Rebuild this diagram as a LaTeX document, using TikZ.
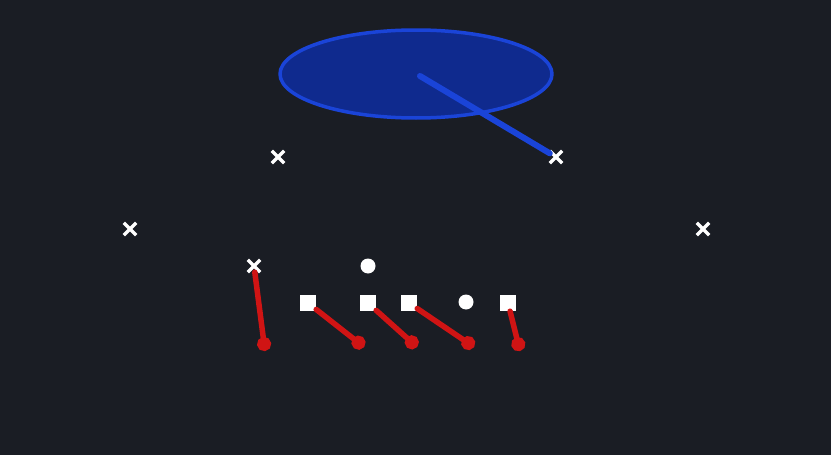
\documentclass[tikz,border=0pt]{standalone}
\usetikzlibrary{shapes.misc,arrows.meta}

\definecolor{field}{HTML}{1A1D24}
\definecolor{zonefill}{HTML}{0F2A8E}
\definecolor{zoneline}{HTML}{1A44D8}
\definecolor{routered}{HTML}{D01414}

\tikzset{
  defender/.style={cross out, draw=white, line width=3.4pt, minimum size=9pt, inner sep=0pt},
  lineman/.style={rectangle, fill=white, minimum size=16pt, inner sep=0pt},
  back/.style={circle, fill=white, minimum size=15pt, inner sep=0pt},
  route/.style={draw=routered, line width=5.5pt, line cap=round, -{Circle[length=14pt]}},
  zone/.style={draw=zoneline, line width=6pt, line cap=round}
}

\begin{document}
\begin{tikzpicture}[x=1pt, y=-1pt, line join=round]

            \fill[field] (0,0) rectangle (831,455);
            \useasboundingbox (0,0) rectangle (831,455);

            % coverage zone
            \filldraw[fill=zonefill, draw=zoneline, line width=3.5pt] (416,74) ellipse (136pt and 44pt);
            \coordinate (zonec) at (420,76);

            % defense
            \node[defender] (lb1) at (278,157) {};
            \node[defender] (lb2) at (556,157) {};
            \node[defender] (cb1) at (130,229) {};
            \node[defender] (cb2) at (703,229) {};
            \node[defender] (de) at (254,266) {};

            \draw[zone] (zonec) -- (lb2);

            % offense
            \node[back] (qb) at (368,266) {};
            \node[back] (rb) at (466,302) {};
            \node[lineman] (lt) at (308,303) {};
            \node[lineman] (c) at (368,303) {};
            \node[lineman] (rg) at (409,303) {};
            \node[lineman] (rt) at (508,303) {};

            % routes
            \coordinate (e1) at (265,351);
            \coordinate (e2) at (364,347);
            \coordinate (e3) at (417,347);
            \coordinate (e4) at (474,347);
            \coordinate (e5) at (520,351);

            \draw[route] (de) -- (e1);
            \draw[route] (lt) -- (e2);
            \draw[route] (c) -- (e3);
            \draw[route] (rg) -- (e4);
            \draw[route] (rt) -- (e5);

\end{tikzpicture}
\end{document}
